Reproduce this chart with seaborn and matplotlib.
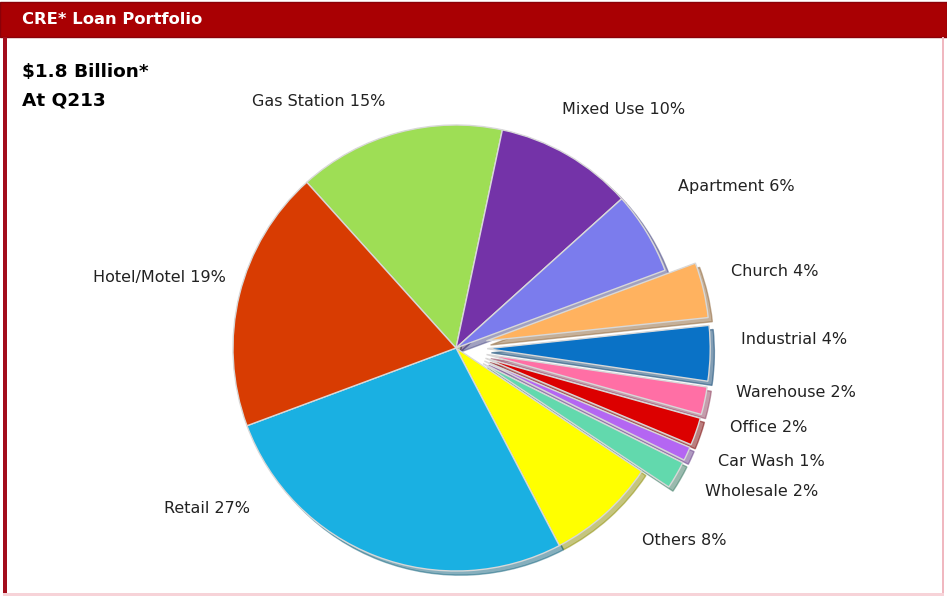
import numpy as np
import matplotlib
matplotlib.use("Agg")
import matplotlib.pyplot as plt
from matplotlib.patches import Rectangle
import seaborn as sns

# slices, clockwise from Gas Station
categories = ["Gas Station", "Mixed Use", "Apartment", "Church", "Industrial",
              "Warehouse", "Office", "Car Wash", "Wholesale", "Others",
              "Retail", "Hotel/Motel"]
shares = [15, 10, 6, 4, 4, 2, 2, 1, 2, 8, 27, 19]
pulled_out = ["Church", "Industrial", "Warehouse", "Office", "Car Wash", "Wholesale"]

header = "CRE* Loan Portfolio"
subtitle = ["$1.8 Billion*", "At Q213"]

colors = ["#9ede55", "#7433a8", "#7b7ced", "#ffb25f", "#0a72c6",
          "#ff6fa5", "#dc0000", "#b466f2", "#62d9ad", "#ffff00",
          "#1ab0e2", "#d83c02"]

# label placement around the pie: (angle in degrees, distance in radii)
label_polar = [(106, 1.15), (66, 1.17), (36, 1.23), (15.5, 1.28), (1.8, 1.28),
               (-9, 1.27), (-16.2, 1.28), (-23.5, 1.28), (-30, 1.29),
               (-46, 1.2), (-142, 1.17), (163, 1.08)]

sns.set_theme(style="white")
plt.rcParams["font.family"] = ["DejaVu Sans"]

W, H = 947, 596
fig = plt.figure(figsize=(W / 100, H / 100), dpi=100)
fig.patch.set_facecolor("white")

# frame: red header band and border lines
fig.add_artist(Rectangle((0, 1 - 37 / H), 1, 35 / H, transform=fig.transFigure,
                         facecolor="#a90003", edgecolor="#8a0008", lw=1))
fig.add_artist(Rectangle((3 / W, 0), 4 / W, 1 - 37 / H, transform=fig.transFigure,
                         facecolor="#a30d1c", edgecolor="none"))
fig.add_artist(Rectangle((942 / W, 0), 2 / W, 1 - 37 / H, transform=fig.transFigure,
                         facecolor="#f0b8c0", edgecolor="none"))
fig.add_artist(Rectangle((3 / W, 0), 941 / W, 3 / H, transform=fig.transFigure,
                         facecolor="#f7d3d8", edgecolor="none"))

fig.text(22 / W, 1 - 20 / H, header, color="white", fontsize=11.8,
         fontweight="bold", va="center", ha="left")
for i, line in enumerate(subtitle):
    fig.text(22 / W, 1 - (72 + 28 * i) / H, line, color="black", fontsize=13.3,
             fontweight="bold", va="center", ha="left")

# axes in pixel units, y upward
ax = fig.add_axes([0, 0, 1, 1])

cx, cy, R = 456, H - 348, 223
# pie's explode is in data units, so scale the fraction by the radius
explode = [0.14 * R if c in pulled_out else 0 for c in categories]

wedges, _ = ax.pie(shares, colors=colors, explode=explode, startangle=132,
                   counterclock=False, center=(cx, cy), radius=R, frame=True,
                   shadow={"ox": 3, "oy": -3, "shade": 0.45},
                   wedgeprops={"edgecolor": "#d8d8d8", "linewidth": 1.0})
ax.set_xlim(0, W)
ax.set_ylim(0, H)
ax.set_aspect("equal")
ax.axis("off")

for cat, val, (ang, dist) in zip(categories, shares, label_polar):
    a = np.deg2rad(ang)
    x = cx + R * dist * np.cos(a)
    y = cy + R * dist * np.sin(a)
    ha = "left" if np.cos(a) >= 0 else "right"
    ax.text(x, y, f"{cat} {val}%", ha=ha, va="center", fontsize=11.5,
            color="#222222")

fig.savefig("out.png", dpi=100, facecolor="white")
